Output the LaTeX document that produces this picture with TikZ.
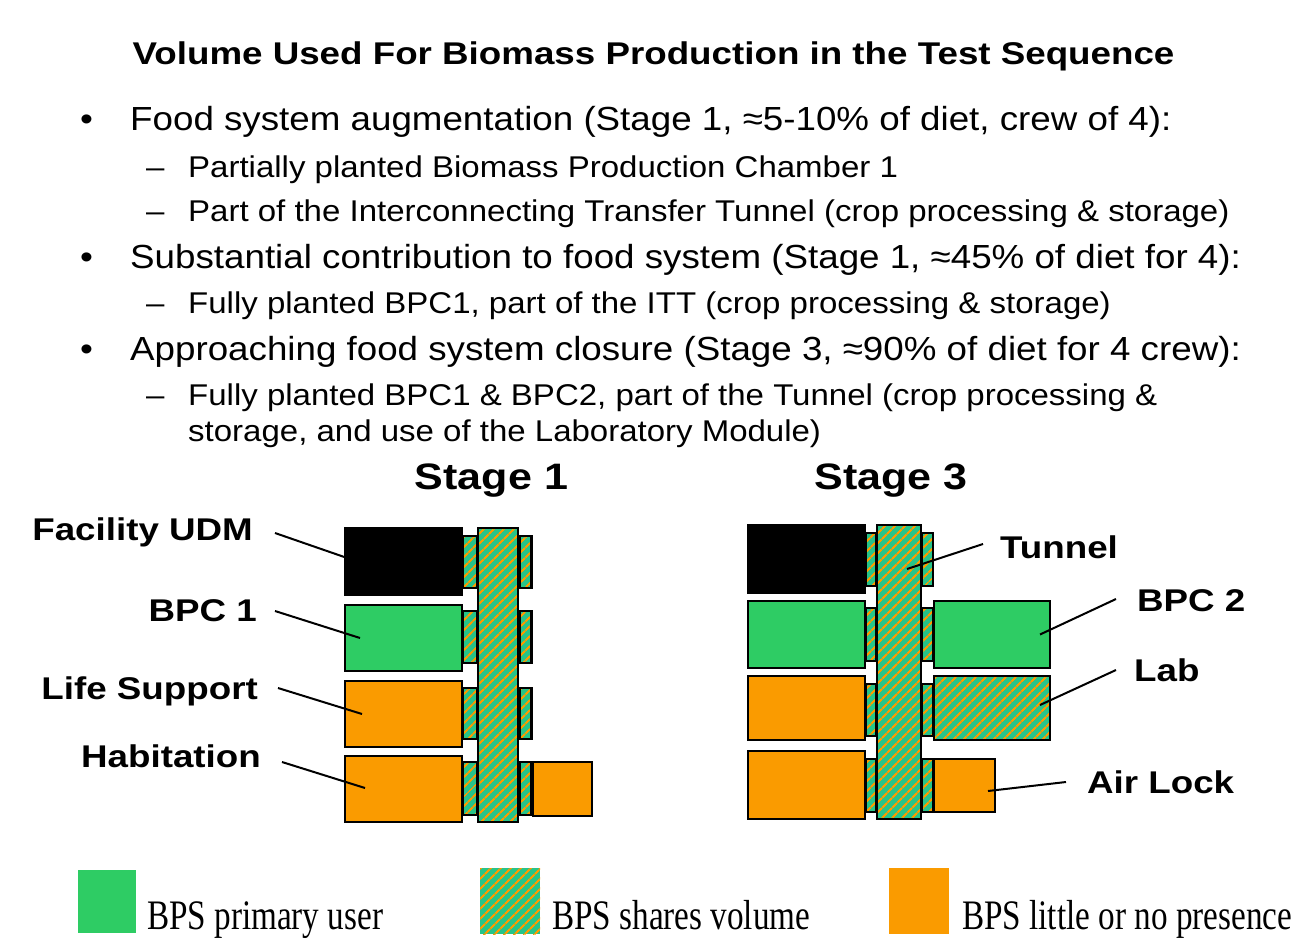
\documentclass[tikz,border=0pt]{standalone}
\usepackage{fontspec}
\setmainfont{Liberation Sans}[FakeStretch=1.17]
\newfontfamily\itemfont{Liberation Sans}[FakeStretch=1.1]
\newfontfamily\legendfont{Liberation Serif}[FakeStretch=0.79]
\usepackage{tikz}
\usetikzlibrary{patterns.meta}
\usepackage{xcolor}

\definecolor{bpsgreen}{RGB}{46,204,100}
\definecolor{hatchgreen}{RGB}{40,196,136}
\definecolor{bpsorange}{RGB}{250,155,0}

\begin{document}
\begin{tikzpicture}[x=1pt, y=-1pt,
    dims/.style 2 args={minimum width=#1pt, minimum height=#2pt},
    room/.style={draw=black, line width=2.5pt, inner sep=0pt, outer sep=0pt},
    shared/.style={room, preaction={fill=hatchgreen}, pattern={Lines[angle=45,distance=7.4pt,line width=2.2pt]}, pattern color=bpsorange},
    keybox/.style={inner sep=0pt, outer sep=0pt},
    headline/.style={inner sep=0pt, font=\bfseries\fontsize{31.4}{36}\selectfont},
    itemtxt/.style={inner sep=0pt, anchor=base west, font=\itemfont\fontsize{33.4}{38}\selectfont},
    subtxt/.style={inner sep=0pt, anchor=base west, font=\itemfont\fontsize{30}{35}\selectfont},
    stagetxt/.style={inner sep=0pt, anchor=base, font=\bfseries\fontsize{36.8}{42}\selectfont},
    lbl/.style={inner sep=0pt, font=\bfseries\fontsize{31.4}{36}\selectfont},
    keytxt/.style={inner sep=0pt, anchor=base west, font=\legendfont\fontsize{42}{48}\selectfont},
    leader/.style={draw=black, line width=2pt}]

        \useasboundingbox (0,0) rectangle (1300,944);

        % Heading and bullet list
        \node[headline, anchor=base] (title) at (653.5,65) {Volume Used For Biomass Production in the Test Sequence};

        \node[itemtxt] (b1) at (80,131) {•};
        \node[itemtxt] (t1) at (130,131) {Food system augmentation (Stage 1, ≈5-10\% of diet, crew of 4):};
        \node[subtxt] (d1a) at (146,178) {–};
        \node[subtxt] (t1a) at (188,178) {Partially planted Biomass Production Chamber 1};
        \node[subtxt] (d1b) at (146,221) {–};
        \node[subtxt] (t1b) at (188,221) {Part of the Interconnecting Transfer Tunnel (crop processing \& storage)};

        \node[itemtxt] (b2) at (80,268) {•};
        \node[itemtxt] (t2) at (130,268) {Substantial contribution to food system (Stage 1, ≈45\% of diet for 4):};
        \node[subtxt] (d2a) at (146,313) {–};
        \node[subtxt] (t2a) at (188,313) {Fully planted BPC1, part of the ITT (crop processing \& storage)};

        \node[itemtxt] (b3) at (80,360) {•};
        \node[itemtxt] (t3) at (130,360) {Approaching food system closure (Stage 3, ≈90\% of diet for 4 crew):};
        \node[subtxt] (d3a) at (146,405) {–};
        \node[subtxt] (t3a) at (188,405) {Fully planted BPC1 \& BPC2, part of the Tunnel (crop processing \&};
        \node[subtxt] (t3b) at (188,441) {storage, and use of the Laboratory Module)};

        % Stage headings
        \node[stagetxt] (stg1) at (491.5,489) {Stage 1};
        \node[stagetxt] (stg3) at (891,489) {Stage 3};

        % Stage 1 -- hatches between modules and tunnel
        \node[shared, dims={14}{52}] (hUDMlA) at (470,562) {};
        \node[shared, dims={14}{52}] (hBPClA) at (470,637) {};
        \node[shared, dims={14}{51}] (hLSSlA) at (470,713.5) {};
        \node[shared, dims={14}{53}] (hHABlA) at (470,788.5) {};
        \node[shared, dims={12}{52}] (hUDMrA) at (525.5,562) {};
        \node[shared, dims={12}{52}] (hBPCrA) at (525.5,637) {};
        \node[shared, dims={12}{51}] (hLSSrA) at (525.5,713.5) {};
        \node[shared, dims={12}{53}] (hHABrA) at (525.5,788.5) {};

        % Stage 1 -- tunnel and modules
        \node[shared, dims={40}{294}] (tunA) at (498,675) {};
        \node[room, fill=black, dims={117}{67}] (udmA) at (403.5,561.5) {};
        \node[room, fill=bpsgreen, dims={117}{66}] (bpcA) at (403.5,638) {};
        \node[room, fill=bpsorange, dims={117}{66}] (lssA) at (403.5,714) {};
        \node[room, fill=bpsorange, dims={117}{66}] (habA) at (403.5,789) {};
        \node[room, fill=bpsorange, dims={59}{54}] (airA) at (562.5,789) {};

        % Stage 3 -- hatches between modules and tunnel
        \node[shared, dims={10}{53}] (hUDMlB) at (871,559.5) {};
        \node[shared, dims={10}{53}] (hBPClB) at (871,634.5) {};
        \node[shared, dims={10}{52}] (hLSSlB) at (871,710) {};
        \node[shared, dims={10}{53}] (hHABlB) at (871,785.5) {};
        \node[shared, dims={11}{53}] (hUDMrB) at (927.5,559.5) {};
        \node[shared, dims={11}{53}] (hBPCrB) at (927.5,634.5) {};
        \node[shared, dims={11}{52}] (hLSSrB) at (927.5,710) {};
        \node[shared, dims={11}{53}] (hHABrB) at (927.5,785.5) {};

        % Stage 3 -- tunnel and modules
        \node[shared, dims={44}{294}] (tunB) at (899,672) {};
        \node[room, fill=black, dims={117}{68}] (udmB) at (806.5,559) {};
        \node[room, fill=bpsgreen, dims={117}{67}] (bpcB) at (806.5,634.5) {};
        \node[room, fill=bpsorange, dims={117}{64}] (lssB) at (806.5,708) {};
        \node[room, fill=bpsorange, dims={117}{68}] (habB) at (806.5,785) {};
        \node[room, fill=bpsgreen, dims={116}{67}] (bpc2B) at (992,634.5) {};
        \node[shared, dims={116}{64}] (labB) at (992,708) {};
        \node[room, fill=bpsorange, dims={61}{53}] (airB) at (964.5,785.5) {};

        % Module labels
        \node[lbl, anchor=base east] (udmLbl) at (253,540) {Facility UDM};
        \node[lbl, anchor=base east] (bpcLbl) at (257,621) {BPC 1};
        \node[lbl, anchor=base east] (lssLbl) at (258,699) {Life Support};
        \node[lbl, anchor=base east] (habLbl) at (261,767) {Habitation};
        \node[lbl, anchor=base west] (tunLbl) at (1000,558) {Tunnel};
        \node[lbl, anchor=base west] (bpc2Lbl) at (1137,611) {BPC 2};
        \node[lbl, anchor=base west] (labLbl) at (1134,681) {Lab};
        \node[lbl, anchor=base west] (airLbl) at (1087,793) {Air Lock};

        % Leader lines
        \draw[leader] ([shift={(22,-7)}]udmLbl.base east) -- ([shift={(-52,-2)}]udmA.center);
        \draw[leader] ([shift={(18,-10)}]bpcLbl.base east) -- ([shift={(-43.5,0)}]bpcA.center);
        \draw[leader] ([shift={(20,-11)}]lssLbl.base east) -- ([shift={(-41.5,0)}]lssA.center);
        \draw[leader] ([shift={(21,-5)}]habLbl.base east) -- ([shift={(-38.5,-1)}]habA.center);
        \draw[leader] ([shift={(-17,-14)}]tunLbl.base west) -- ([shift={(8,-103)}]tunB.center);
        \draw[leader] ([shift={(-21,-12)}]bpc2Lbl.base west) -- ([shift={(48,0)}]bpc2B.center);
        \draw[leader] ([shift={(-18,-11)}]labLbl.base west) -- ([shift={(48,-3)}]labB.center);
        \draw[leader] ([shift={(-21,-11)}]airLbl.base west) -- ([shift={(23.5,5.5)}]airB.center);

        % Legend
        \node[keybox, fill=bpsgreen, dims={58}{63}] (keyGreen) at (107,901.5) {};
        \node[keybox, preaction={fill=hatchgreen}, pattern={Lines[angle=45,distance=7.4pt,line width=2.2pt]}, pattern color=bpsorange, dims={60}{66}] (keyShared) at (510,901) {};
        \node[keybox, fill=bpsorange, dims={60}{66}] (keyOrange) at (919,901) {};
        \node[keytxt] (keyGreenTxt) at (147,929) {BPS primary user};
        \node[keytxt] (keySharedTxt) at (552,929) {BPS shares volume};
        \node[keytxt] (keyOrangeTxt) at (962,929) {BPS little or no presence};

    \end{tikzpicture}
\end{document}
